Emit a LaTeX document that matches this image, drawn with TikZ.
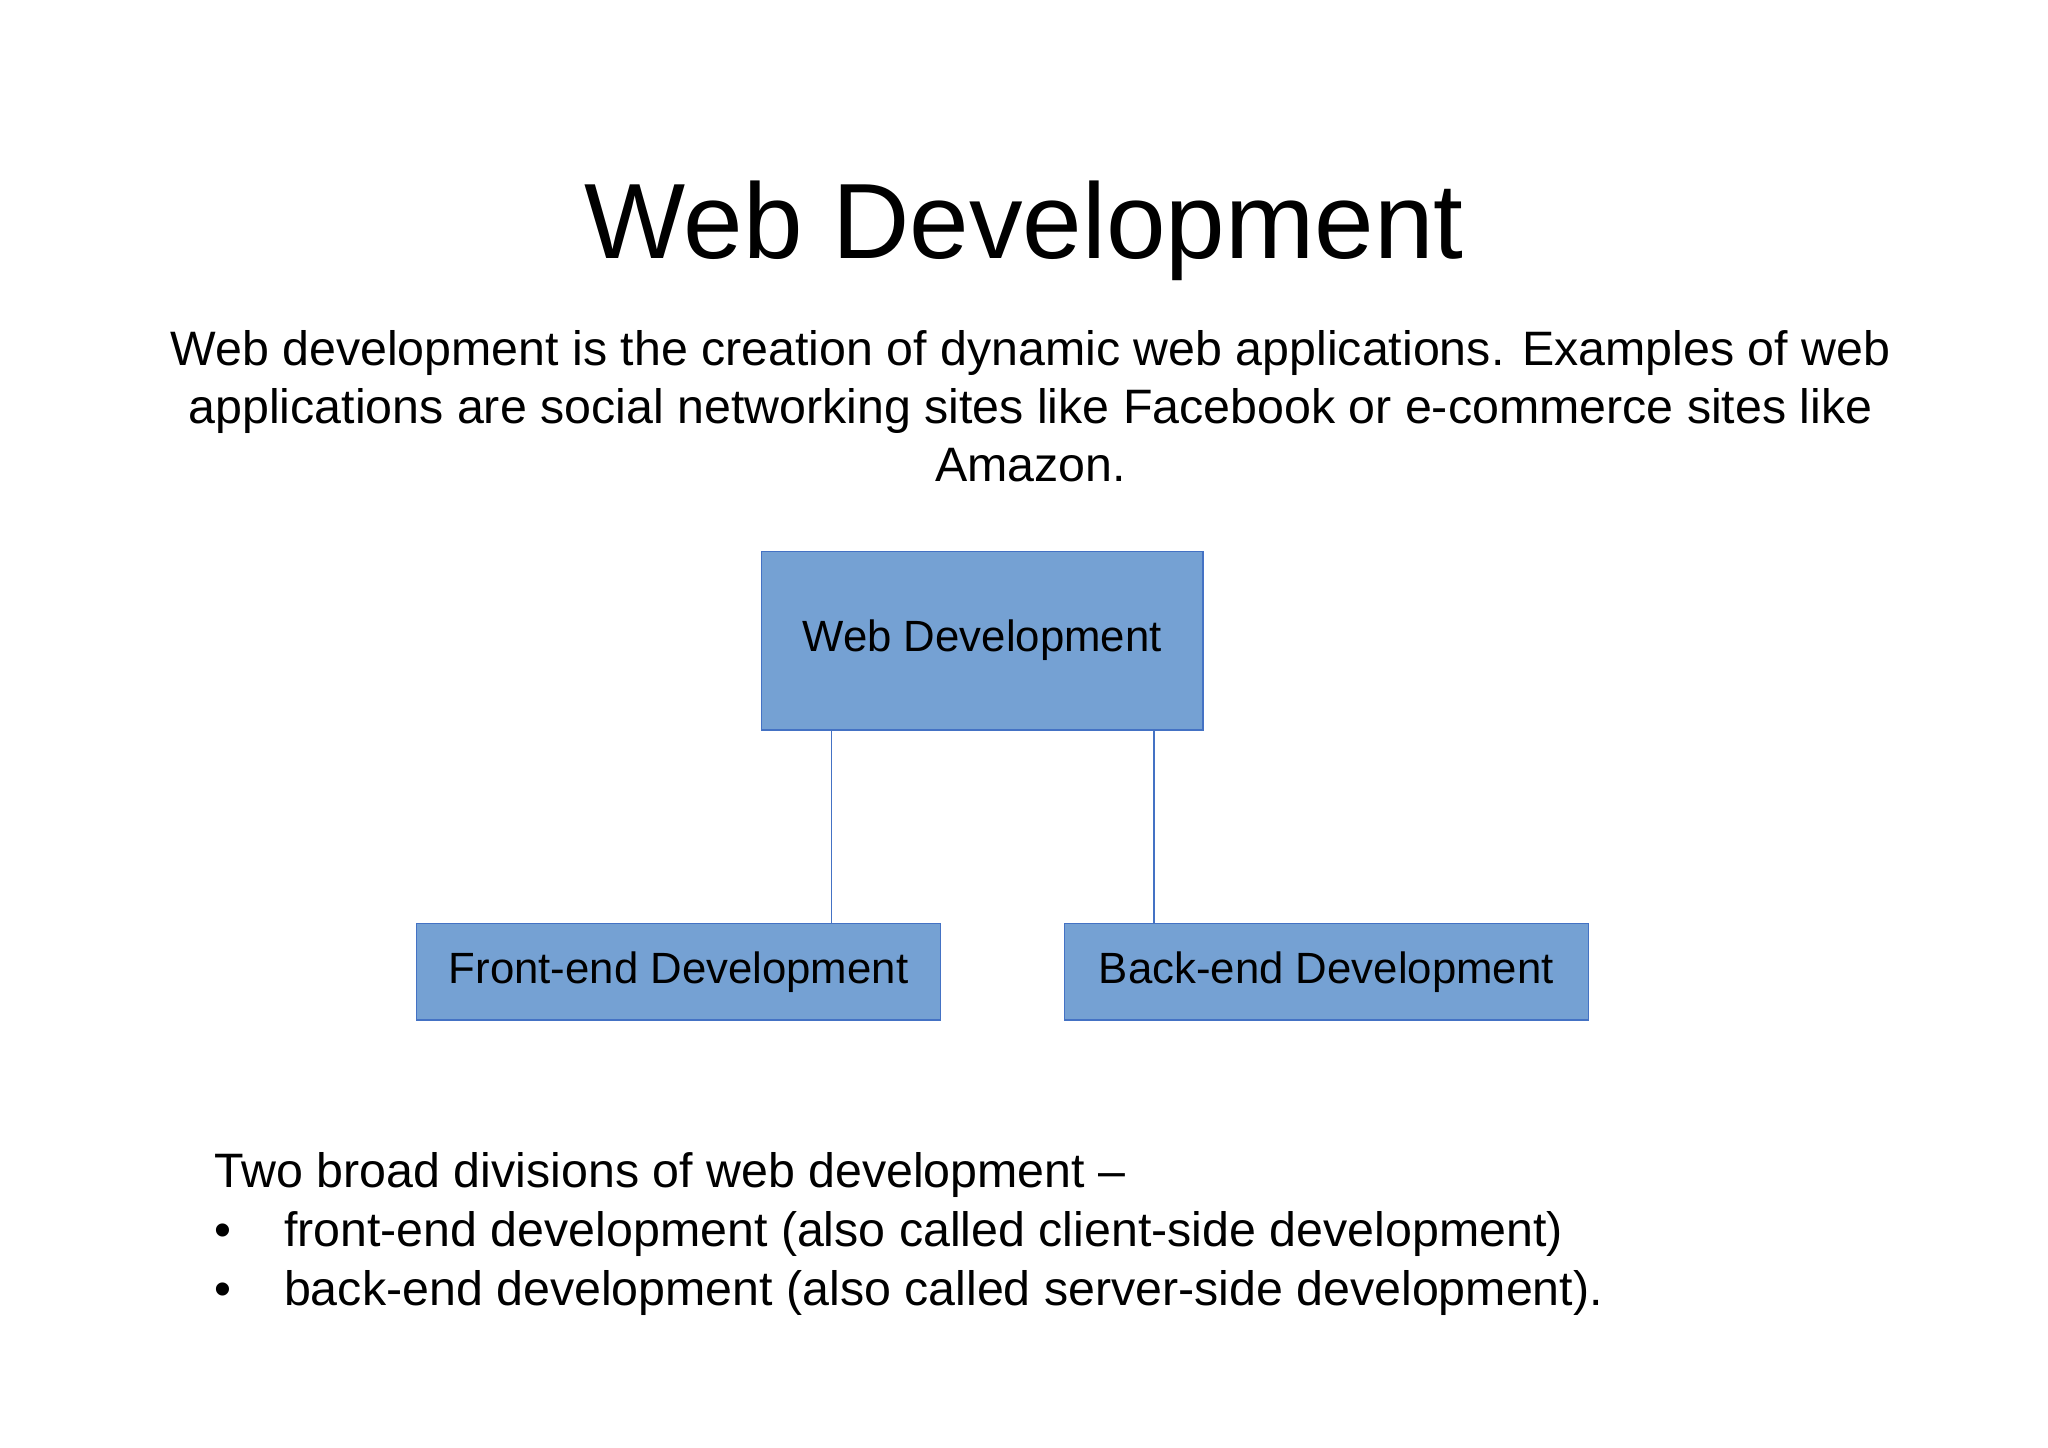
\documentclass[tikz,border=0pt]{standalone}
\usepackage{fontspec}
\setmainfont{Liberation Sans}
\begin{document}
\begin{tikzpicture}[x=1pt,y=-1pt,
  boxst/.style={draw={rgb,255:red,68;green,114;blue,196},fill={rgb,255:red,117;green,161;blue,211},line width=1pt,inner sep=0pt,font=\fontsize{33.5}{40}\selectfont},
  link/.style={draw={rgb,255:red,68;green,114;blue,196},line width=1.3pt}]
\useasboundingbox (0,0) rectangle (1568,1108);
\node (title) at (784,177) {\fontsize{82}{100}\selectfont Web Development};
\node[align=center,font=\fontsize{37}{44.5}\selectfont] (intro) at (789,311) {Web development is the creation of dynamic web applications. Examples of web\\applications are social networking sites like Facebook or e-commerce sites like\\Amazon.};
\node[boxst,minimum width=338,minimum height=137] (root) at (752,490.5) {\raisebox{-5pt}{Web Development}};
\node[boxst,minimum width=401,minimum height=74] (front) at (519.5,744) {\raisebox{-3pt}{Front-end Development}};
\node[boxst,minimum width=401,minimum height=74] (back) at (1015.5,744) {\raisebox{-3pt}{Back-end Development}};
\draw[link] (root.south -| front.north east) ++(-84,0) coordinate (a1) -- (a1 |- front.north);
\draw[link] (root.south -| back.north west) ++(69,0) coordinate (b1) -- (b1 |- back.north);
\node[anchor=north west,align=left,font=\fontsize{37}{45}\selectfont] (bul) at (161,879) {Two broad divisions of web development --\\
\makebox[53pt][l]{\textbullet}front-end development (also called client-side development)\\
\makebox[53pt][l]{\textbullet}back-end development (also called server-side development).};
\end{tikzpicture}
\end{document}
